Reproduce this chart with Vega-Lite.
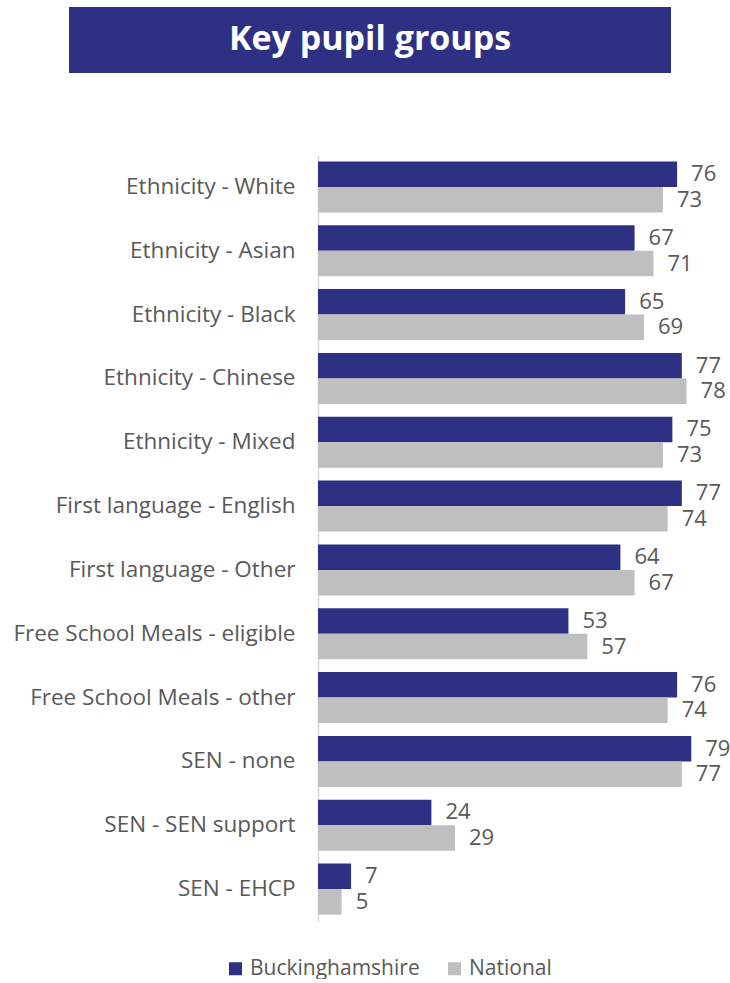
{
  "$schema": "https://vega.github.io/schema/vega-lite/v6.json",
  "background": "white",
  "padding": {"left": 12, "top": 7, "right": 0, "bottom": 0},
  "config": {"view": {"stroke": null}, "font": "Open Sans"},
  "spacing": 82,
  "vconcat": [
    {
      "width": 602,
      "height": 66,
      "data": {"values": [{"title": "Key pupil groups"}]},
      "layer": [
        {"mark": {"type": "rect", "color": "#2E3084"}},
        {
          "mark": {"type": "text", "color": "white", "fontSize": 34, "fontWeight": "bold", "font": "Open Sans"},
          "encoding": {"text": {"field": "title"}}
        }
      ]
    },
    {
      "bounds": "flush",
      "spacing": 0,
      "hconcat": [
        {
          "width": 249,
          "height": 766,
          "data": {"values": []},
          "mark": "point"
        },
        {
          "width": 378,
          "height": 766,
          "data": {
            "values": [
              {"group": "Ethnicity - White", "series": "Buckinghamshire", "value": 76},
              {"group": "Ethnicity - White", "series": "National", "value": 73},
              {"group": "Ethnicity - Asian", "series": "Buckinghamshire", "value": 67},
              {"group": "Ethnicity - Asian", "series": "National", "value": 71},
              {"group": "Ethnicity - Black", "series": "Buckinghamshire", "value": 65},
              {"group": "Ethnicity - Black", "series": "National", "value": 69},
              {"group": "Ethnicity - Chinese", "series": "Buckinghamshire", "value": 77},
              {"group": "Ethnicity - Chinese", "series": "National", "value": 78},
              {"group": "Ethnicity - Mixed", "series": "Buckinghamshire", "value": 75},
              {"group": "Ethnicity - Mixed", "series": "National", "value": 73},
              {"group": "First language - English", "series": "Buckinghamshire", "value": 77},
              {"group": "First language - English", "series": "National", "value": 74},
              {"group": "First language - Other", "series": "Buckinghamshire", "value": 64},
              {"group": "First language - Other", "series": "National", "value": 67},
              {"group": "Free School Meals - eligible", "series": "Buckinghamshire", "value": 53},
              {"group": "Free School Meals - eligible", "series": "National", "value": 57},
              {"group": "Free School Meals - other", "series": "Buckinghamshire", "value": 76},
              {"group": "Free School Meals - other", "series": "National", "value": 74},
              {"group": "SEN - none", "series": "Buckinghamshire", "value": 79},
              {"group": "SEN - none", "series": "National", "value": 77},
              {"group": "SEN - SEN support", "series": "Buckinghamshire", "value": 24},
              {"group": "SEN - SEN support", "series": "National", "value": 29},
              {"group": "SEN - EHCP", "series": "Buckinghamshire", "value": 7},
              {"group": "SEN - EHCP", "series": "National", "value": 5}
            ]
          },
          "encoding": {
            "y": {
              "field": "group",
              "type": "nominal",
              "sort": null,
              "scale": {"paddingInner": 0.2, "paddingOuter": 0.1},
              "axis": {
                "title": null,
                "ticks": false,
                "domainColor": "#D9D9D9",
                "domainWidth": 1.5,
                "labelFontSize": 22.5,
                "labelColor": "#595959",
                "labelPadding": 23,
                "labelLimit": 400
              }
            },
            "yOffset": {"field": "series", "type": "nominal", "sort": ["Buckinghamshire", "National"]},
            "x": {"field": "value", "type": "quantitative", "scale": {"domain": [0, 80]}, "axis": null}
          },
          "layer": [
            {
              "mark": {"type": "bar"},
              "encoding": {
                "color": {
                  "field": "series",
                  "type": "nominal",
                  "scale": {"domain": ["Buckinghamshire", "National"], "range": ["#2E3084", "#BFBFBF"]},
                  "legend": {
                    "orient": "none",
                    "legendX": 156,
                    "legendY": 951,
                    "direction": "horizontal",
                    "title": null,
                    "symbolType": "square",
                    "symbolSize": 169,
                    "symbolStrokeWidth": 0,
                    "labelFontSize": 21,
                    "labelColor": "#595959",
                    "labelLimit": 300,
                    "columnPadding": 24
                  }
                }
              }
            },
            {
              "mark": {"type": "text", "align": "left", "baseline": "middle", "dx": 14, "fontSize": 22, "color": "#595959"},
              "encoding": {"text": {"field": "value", "type": "quantitative"}}
            }
          ]
        }
      ]
    }
  ]
}
